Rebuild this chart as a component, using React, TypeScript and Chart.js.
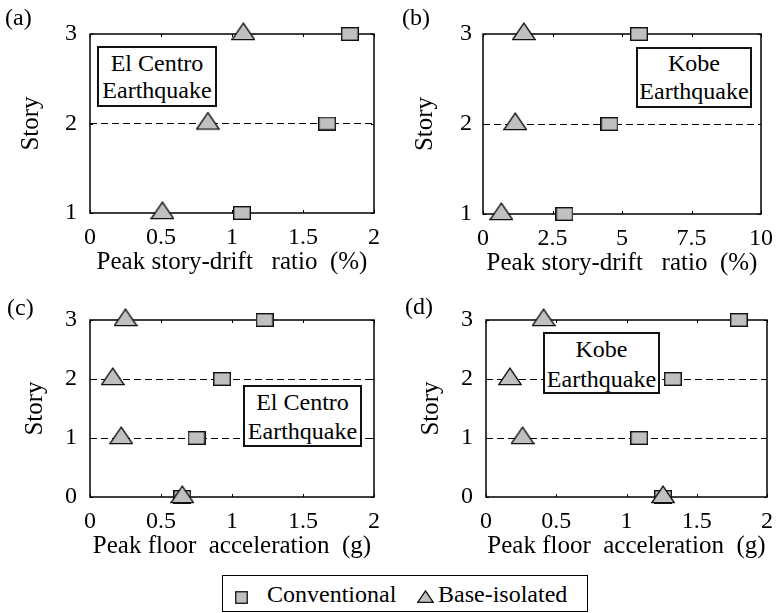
import React, { useEffect, useRef } from 'react';
import { Chart, registerables } from 'chart.js';

Chart.register(...registerables);

// ---------------- data ----------------
const seriesNames = ['Conventional', 'Base-isolated'];

const storiesDrift = [1, 2, 3];
const storiesAccel = [0, 1, 2, 3];

// (a) El Centro, peak story-drift ratio (%)
const driftElCentroConventional = [1.07, 1.67, 1.83];
const driftElCentroIsolated = [0.51, 0.83, 1.08];
// (b) Kobe, peak story-drift ratio (%)
const driftKobeConventional = [2.93, 4.55, 5.61];
const driftKobeIsolated = [0.66, 1.16, 1.47];
// (c) El Centro, peak floor acceleration (g)
const accelElCentroConventional = [0.65, 0.75, 0.93, 1.23];
const accelElCentroIsolated = [0.65, 0.22, 0.16, 0.25];
// (d) Kobe, peak floor acceleration (g)
const accelKobeConventional = [1.26, 1.09, 1.33, 1.8];
const accelKobeIsolated = [1.26, 0.26, 0.17, 0.41];

const xTicksDriftElCentro = [0, 0.5, 1, 1.5, 2];
const xTicksDriftKobe = [0, 2.5, 5, 7.5, 10];
const xTicksAccel = [0, 0.5, 1, 1.5, 2];
const yTicksDrift = [1, 2, 3];
const yTicksAccel = [0, 1, 2, 3];

const xTitleDrift = 'Peak story-drift   ratio  (%)';
const xTitleAccel = 'Peak floor  acceleration  (g)';
const yTitle = 'Story';

// ---------------- style ----------------
const FONT = '"Liberation Serif", "Times New Roman", Times, serif';
const GRAY = '#c0c0c0';
const FS = 24;
const FS_TITLE = 25;

type PanelCfg = {
  left: number; top: number; width: number; height: number;
  area: { l: number; t: number; r: number; b: number };
  yTitlePad: number; yTickPad: number;
  xTitle: string; xTicks: number[]; yTicks: number[];
  stories: number[]; conv: number[]; iso: number[];
};

const panels: PanelCfg[] = [
  {
    left: 0, top: 0, width: 390, height: 290,
    area: { l: 90, t: 34, r: 376, b: 213 }, yTitlePad: 16, yTickPad: 13,
    xTitle: xTitleDrift, xTicks: xTicksDriftElCentro, yTicks: yTicksDrift,
    stories: storiesDrift, conv: driftElCentroConventional, iso: driftElCentroIsolated,
  },
  {
    left: 390, top: 0, width: 393, height: 290,
    area: { l: 93, t: 34, r: 376, b: 214 }, yTitlePad: 20, yTickPad: 11,
    xTitle: xTitleDrift, xTicks: xTicksDriftKobe, yTicks: yTicksDrift,
    stories: storiesDrift, conv: driftKobeConventional, iso: driftKobeIsolated,
  },
  {
    left: 0, top: 290, width: 390, height: 282,
    area: { l: 90, t: 30, r: 376, b: 207 }, yTitlePad: 20, yTickPad: 13,
    xTitle: xTitleAccel, xTicks: xTicksAccel, yTicks: yTicksAccel,
    stories: storiesAccel, conv: accelElCentroConventional, iso: accelElCentroIsolated,
  },
  {
    left: 390, top: 290, width: 393, height: 282,
    area: { l: 96, t: 30, r: 383, b: 207 }, yTitlePad: 26, yTickPad: 13,
    xTitle: xTitleAccel, xTicks: xTicksAccel, yTicks: yTicksAccel,
    stories: storiesAccel, conv: accelKobeConventional, iso: accelKobeIsolated,
  },
];

const X_AXIS_H = 64;

function makeMarker(kind: 'square' | 'triangle'): HTMLCanvasElement {
  const c = document.createElement('canvas');
  if (kind === 'square') {
    c.width = 18; c.height = 14;
    const g = c.getContext('2d') as CanvasRenderingContext2D;
    g.fillStyle = GRAY; g.strokeStyle = '#111'; g.lineWidth = 1.4;
    g.fillRect(0.7, 0.7, 16.6, 12.6);
    g.strokeRect(0.7, 0.7, 16.6, 12.6);
  } else {
    c.width = 24; c.height = 24;
    const g = c.getContext('2d') as CanvasRenderingContext2D;
    g.fillStyle = GRAY; g.strokeStyle = '#111'; g.lineWidth = 1.4; g.lineJoin = 'miter';
    g.beginPath();
    g.moveTo(12, 1.2);
    g.lineTo(23.2, 17.6);
    g.lineTo(0.8, 17.6);
    g.closePath();
    g.fill();
    g.stroke();
  }
  return c;
}

const framePlugin = {
  id: 'frameBox',
  beforeDatasetsDraw(chart: any) {
    const { ctx, chartArea: a, scales } = chart;
    ctx.save();
    ctx.setLineDash([]);
    ctx.strokeStyle = '#000';
    ctx.lineWidth = 1.5;
    ctx.strokeRect(a.left, a.top, a.right - a.left, a.bottom - a.top);
    ctx.lineWidth = 1;
    ctx.beginPath();
    const L = 3;
    scales.x.ticks.forEach((t: any) => {
      const px = Math.round(scales.x.getPixelForValue(t.value)) + 0.5;
      ctx.moveTo(px, a.top); ctx.lineTo(px, a.top + L);
      ctx.moveTo(px, a.bottom); ctx.lineTo(px, a.bottom - L);
    });
    scales.y.ticks.forEach((t: any) => {
      const py = Math.round(scales.y.getPixelForValue(t.value)) + 0.5;
      ctx.moveTo(a.left, py); ctx.lineTo(a.left + L, py);
      ctx.moveTo(a.right, py); ctx.lineTo(a.right - L, py);
    });
    ctx.stroke();
    ctx.restore();
  },
};

function buildChart(canvas: HTMLCanvasElement, p: PanelCfg, sq: HTMLCanvasElement, tri: HTMLCanvasElement) {
  const xMin = p.xTicks[0], xMax = p.xTicks[p.xTicks.length - 1];
  const yMin = p.yTicks[0], yMax = p.yTicks[p.yTicks.length - 1];
  const font = { family: FONT, size: FS, weight: 'normal' as const };
  const titleFont = { family: FONT, size: FS_TITLE, weight: 'normal' as const };
  return new Chart(canvas, {
    type: 'scatter',
    data: {
      datasets: [
        {
          label: seriesNames[0],
          data: p.stories.map((s, i) => ({ x: p.conv[i], y: s })),
          pointStyle: sq as any, pointRadius: 8, showLine: false, clip: false as any, order: 1,
        },
        {
          label: seriesNames[1],
          data: p.stories.map((s, i) => ({ x: p.iso[i], y: s })),
          pointStyle: tri as any, pointRadius: 8, showLine: false, clip: false as any, order: 0,
        },
      ],
    },
    options: {
      animation: false,
      responsive: false,
      maintainAspectRatio: false,
      events: [],
      layout: {
        padding: {
          left: 0,
          top: p.area.t,
          right: p.width - p.area.r,
          bottom: p.height - p.area.b - X_AXIS_H,
        },
      },
      plugins: { legend: { display: false }, tooltip: { enabled: false } },
      scales: {
        x: {
          type: 'linear',
          min: xMin, max: xMax,
          afterBuildTicks: (s: any) => { s.ticks = p.xTicks.map((v) => ({ value: v })); },
          afterFit: (s: any) => { s.height = X_AXIS_H; },
          grid: { display: false, drawTicks: false },
          border: { display: false },
          ticks: {
            color: '#000', font, padding: 10, maxRotation: 0, autoSkip: false,
            callback: (v: any) => String(v),
          },
          title: { display: true, text: p.xTitle, color: '#000', font: titleFont, padding: { top: 0, bottom: 0 } },
        },
        y: {
          type: 'linear',
          min: yMin, max: yMax,
          afterBuildTicks: (s: any) => { s.ticks = p.yTicks.map((v) => ({ value: v })); },
          afterFit: (s: any) => { s.width = p.area.l; },
          grid: {
            drawTicks: false,
            lineWidth: 1,
            color: (c: any) => (c.tick && c.tick.value > yMin && c.tick.value < yMax ? '#000' : 'rgba(0,0,0,0)'),
            borderDash: [7, 4],
          } as any,
          border: { display: false, dash: [7, 4] },
          ticks: {
            color: '#000', font, padding: p.yTickPad, autoSkip: false,
            callback: (v: any) => String(v),
          },
          title: { display: true, text: yTitle, color: '#000', font: titleFont, padding: { top: p.yTitlePad, bottom: 0 } },
        },
      },
    },
    plugins: [framePlugin],
  } as any);
}

const textBase: React.CSSProperties = {
  position: 'absolute',
  fontFamily: FONT,
  fontSize: FS,
  lineHeight: '28px',
  color: '#000',
  whiteSpace: 'pre',
};

function NoteBox(props: { left: number; top: number; width: number; height: number; lines: string[]; lineTops: number[] }) {
  const { left, top, width, height, lines, lineTops } = props;
  return (
    <div
      style={{
        position: 'absolute', left, top, width, height, boxSizing: 'border-box',
        border: '2px solid #111', background: '#fff',
      }}
    >
      {lines.map((ln, i) => (
        <div key={i} style={{ ...textBase, left: 0, width: width - 4, textAlign: 'center', top: lineTops[i] - top - 2 }}>
          {ln}
        </div>
      ))}
    </div>
  );
}

export default function App() {
  const refs = [useRef<HTMLCanvasElement>(null), useRef<HTMLCanvasElement>(null), useRef<HTMLCanvasElement>(null), useRef<HTMLCanvasElement>(null)];

  useEffect(() => {
    const sq = makeMarker('square');
    const tri = makeMarker('triangle');
    const charts = panels.map((p, i) => buildChart(refs[i].current as HTMLCanvasElement, p, sq, tri));
    let alive = true;
    const fonts = (document as any).fonts;
    if (fonts && fonts.load) {
      fonts.load(`${FS}px "Liberation Serif"`).then(() => {
        if (alive) charts.forEach((c) => c.update());
      }).catch(() => {});
    }
    return () => { alive = false; charts.forEach((c) => c.destroy()); };
  }, []);

  return (
    <div style={{ position: 'absolute', left: 0, top: 0, width: 783, height: 613, background: '#fff', overflow: 'hidden' }}>
      {panels.map((p, i) => (
        <canvas
          key={i}
          ref={refs[i]}
          width={p.width}
          height={p.height}
          style={{ position: 'absolute', left: p.left, top: p.top, width: p.width, height: p.height }}
        />
      ))}

      <div style={{ ...textBase, left: 5, top: 3 }}>(a)</div>
      <div style={{ ...textBase, left: 402, top: 3 }}>(b)</div>
      <div style={{ ...textBase, left: 7, top: 293 }}>(c)</div>
      <div style={{ ...textBase, left: 405, top: 292 }}>(d)</div>

      <NoteBox left={97} top={46} width={120} height={61} lines={['El Centro', 'Earthquake']} lineTops={[49, 76]} />
      <NoteBox left={636} top={47} width={116} height={61} lines={['Kobe', 'Earthquake']} lineTops={[49, 77]} />
      <NoteBox left={243} top={385} width={119} height={62} lines={['El Centro', 'Earthquake']} lineTops={[388, 417]} />
      <NoteBox left={543} top={332} width={117} height={62} lines={['Kobe', 'Earthquake']} lineTops={[335, 365]} />

      <div
        style={{
          position: 'absolute', left: 222, top: 575, width: 366, height: 37, boxSizing: 'border-box',
          border: '1px solid #000', background: '#fff',
        }}
      >
        <svg style={{ position: 'absolute', left: 12, top: 15 }} width={13} height={13}>
          <rect x={0.75} y={0.75} width={11.5} height={11.5} fill={GRAY} stroke="#111" strokeWidth={1.3} />
        </svg>
        <div style={{ ...textBase, left: 44, top: 4 }}>{seriesNames[0]}</div>
        <svg style={{ position: 'absolute', left: 194, top: 14 }} width={17} height={13}>
          <polygon points="8.5,0.9 16.3,12.3 0.7,12.3" fill={GRAY} stroke="#111" strokeWidth={1.3} />
        </svg>
        <div style={{ ...textBase, left: 215, top: 4 }}>{seriesNames[1]}</div>
      </div>
    </div>
  );
}
